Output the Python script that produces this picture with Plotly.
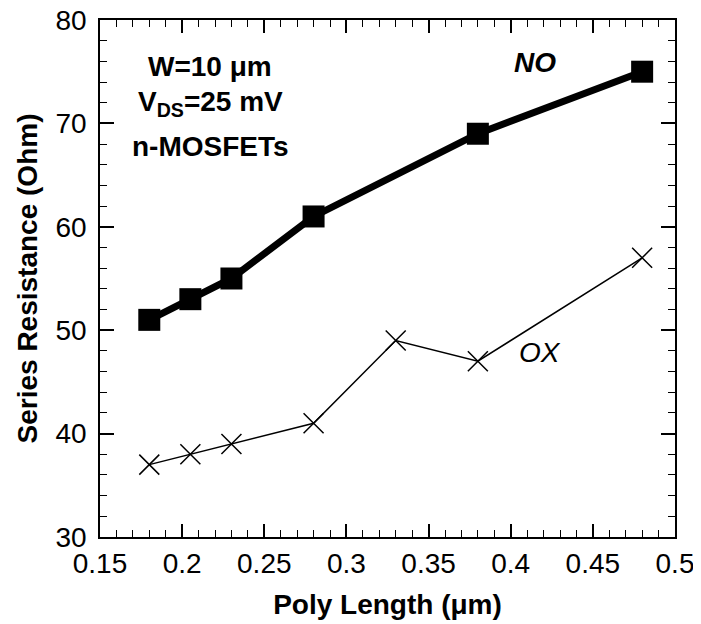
import plotly.graph_objects as go

no_x = [0.18, 0.205, 0.23, 0.28, 0.38, 0.48]
no_r = [51, 53, 55, 61, 69, 75]
ox_x = [0.18, 0.205, 0.23, 0.28, 0.33, 0.38, 0.48]
ox_r = [37, 38, 39, 41, 49, 47, 57]
x_ticks = [0.15, 0.2, 0.25, 0.3, 0.35, 0.4, 0.45, 0.5]
x_tick_labels = ["0.15", "0.2", "0.25", "0.3", "0.35", "0.4", "0.45", "0.5"]

FONT = "Liberation Sans"

fig = go.Figure()
fig.add_trace(go.Scatter(
    x=no_x, y=no_r, mode="lines+markers", name="NO",
    line=dict(color="black", width=7),
    marker=dict(symbol="square", size=22, color="black"),
))
fig.add_trace(go.Scatter(
    x=ox_x, y=ox_r, mode="lines+markers", name="OX",
    line=dict(color="black", width=1.5),
    marker=dict(symbol="x-thin", size=20, color="black",
                line=dict(color="black", width=1.5)),
))

axis_common = dict(
    showgrid=False, zeroline=False, showline=True, linecolor="black",
    linewidth=1.5, mirror="ticks", ticks="inside", tickcolor="black",
    tickwidth=1.6, automargin=False, ticklabeloverflow="allow",
    tickfont=dict(family=FONT, size=28, color="black"),
)

fig.update_layout(
    width=693, height=616,
    margin=dict(l=92, r=26, t=12, b=87),
    paper_bgcolor="white", plot_bgcolor="white",
    showlegend=False,
    font=dict(family=FONT, color="black"),
    xaxis=dict(
        range=[0.15, 0.5], tickvals=x_ticks, ticktext=x_tick_labels,
        ticklen=13, ticklabelstandoff=1,
        minor=dict(dtick=0.01, ticks="inside", ticklen=7, tickcolor="black", tickwidth=1.3),
        title=dict(text="<b>Poly Length (μm)</b>", font=dict(family=FONT, size=28), standoff=16),
        **axis_common,
    ),
    yaxis=dict(
        range=[30, 80], dtick=10, ticklen=14, ticklabelstandoff=6,
        minor=dict(dtick=2, ticks="inside", ticklen=7, tickcolor="black", tickwidth=1.3),
        title=dict(text="<b>Series Resistance (Ohm)</b>", font=dict(family=FONT, size=28), standoff=10),
        **axis_common,
    ),
)

fig.add_annotation(x=0.4148, y=75.9, xref="x", yref="y", text="<b><i>NO</i></b>",
                   showarrow=False, font=dict(family=FONT, size=28, color="black"))
fig.add_annotation(x=0.4178, y=47.8, xref="x", yref="y", text="<i>OX</i>",
                   showarrow=False, font=dict(family=FONT, size=28, color="black"))
fig.add_annotation(x=0.217, y=75.5, xref="x", yref="y", text="<b>W=10 μm</b>",
                   showarrow=False, font=dict(family=FONT, size=28, color="black"))
fig.add_annotation(x=0.217, y=71.9, xref="x", yref="y", text="<b>V<sub>DS</sub>=25 mV</b>",
                   showarrow=False, font=dict(family=FONT, size=28, color="black"))
fig.add_annotation(x=0.217, y=67.8, xref="x", yref="y", text="<b>n-MOSFETs</b>",
                   showarrow=False, font=dict(family=FONT, size=28, color="black"))

fig.write_html("out.html")
